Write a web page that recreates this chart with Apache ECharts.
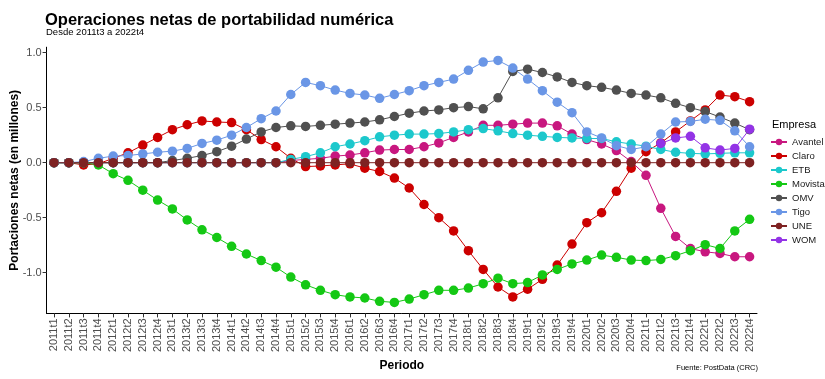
<!DOCTYPE html>
<html>
<head>
<meta charset="utf-8">
<script src="https://cdn.jsdelivr.net/npm/echarts@6/dist/echarts.min.js"></script>
<style>
  html, body { margin: 0; padding: 0; background: #fff; }
  #chart { width: 825px; height: 379px; }
</style>
</head>
<body>
<div id="chart"></div>
<script>
const periods = [
  '2011t1','2011t2','2011t3','2011t4','2012t1','2012t2','2012t3','2012t4',
  '2013t1','2013t2','2013t3','2013t4','2014t1','2014t2','2014t3','2014t4',
  '2015t1','2015t2','2015t3','2015t4','2016t1','2016t2','2016t3','2016t4',
  '2017t1','2017t2','2017t3','2017t4','2018t1','2018t2','2018t3','2018t4',
  '2019t1','2019t2','2019t3','2019t4','2020t1','2020t2','2020t3','2020t4',
  '2021t1','2021t2','2021t3','2021t4','2022t1','2022t2','2022t3','2022t4'
];

const avantel = [0,0,0,0,0,0,0,0, 0,0,0,0,0,0,0,0,
  0.02,0.03,0.04,0.06,0.07,0.09,0.115,0.12, 0.12,0.145,0.18,0.23,0.28,0.34,0.34,0.35,
  0.36,0.36,0.335,0.26,0.21,0.17,0.11,0.01, -0.115,-0.415,-0.67,-0.78,-0.81,-0.825,-0.855,-0.855];

const claro = [0,0,-0.02,-0.01,0.04,0.09,0.16,0.23, 0.30,0.345,0.38,0.37,0.365,0.30,0.21,0.145,
  0.04,-0.035,-0.03,-0.02,-0.01,-0.05,-0.08,-0.14, -0.23,-0.38,-0.50,-0.62,-0.80,-0.97,-1.13,-1.22,
  -1.15,-1.06,-0.93,-0.74,-0.545,-0.455,-0.26,-0.05, 0.10,0.18,0.28,0.38,0.48,0.615,0.60,0.555];

const etb = [0,0,0,0,0,0,0,0, 0,0,0,0,0,0,0,0,
  0.03,0.055,0.09,0.145,0.17,0.20,0.235,0.25, 0.26,0.26,0.265,0.28,0.30,0.31,0.29,0.265,
  0.25,0.24,0.23,0.225,0.22,0.22,0.19,0.17, 0.15,0.12,0.095,0.085,0.08,0.085,0.09,0.09];

const movistar = [0,0,0,-0.02,-0.10,-0.16,-0.25,-0.34, -0.42,-0.52,-0.61,-0.68,-0.76,-0.83,-0.89,-0.95,
  -1.04,-1.11,-1.16,-1.20,-1.22,-1.23,-1.26,-1.27, -1.24,-1.20,-1.16,-1.16,-1.14,-1.10,-1.05,-1.10,
  -1.09,-1.02,-0.97,-0.92,-0.885,-0.84,-0.86,-0.885, -0.89,-0.88,-0.845,-0.80,-0.745,-0.78,-0.62,-0.515];

const omv = [0,0,0,0,0,0,0,0, 0.02,0.04,0.065,0.10,0.15,0.215,0.28,0.32,
  0.335,0.33,0.34,0.35,0.36,0.37,0.39,0.42, 0.45,0.47,0.48,0.50,0.51,0.49,0.59,0.83,
  0.85,0.82,0.78,0.73,0.70,0.685,0.66,0.63, 0.615,0.59,0.54,0.50,0.465,0.415,0.36,0.30];

const tigo = [0,0,0.01,0.04,0.06,0.065,0.08,0.095, 0.105,0.13,0.175,0.205,0.25,0.32,0.40,0.47,
  0.62,0.73,0.70,0.66,0.63,0.615,0.585,0.62, 0.655,0.70,0.73,0.76,0.84,0.915,0.93,0.86,
  0.76,0.655,0.55,0.455,0.28,0.225,0.155,0.12, 0.145,0.26,0.37,0.375,0.395,0.385,0.29,0.145];

const une = [0,0,0,0,0,0,0,0, 0,0,0,0,0,0,0,0,
  0,0,0,0,0,0,0,0, 0,0,0,0,0,0,0,0,
  0,0,0,0,0,0,0,0, 0,0,0,0,0,0,0,0];

const wom = [null,null,null,null,null,null,null,null, null,null,null,null,null,null,null,null,
  null,null,null,null,null,null,null,null, null,null,null,null,null,null,null,null,
  null,null,null,null,null,null,null,null, null,0.175,0.225,0.24,0.135,0.115,0.13,0.305];

const yTicks = [-1, -0.5, 0, 0.5, 1];

const seriesDefs = [
  ['Avantel', avantel, '#C8177F'],
  ['Claro', claro, '#CC0000'],
  ['ETB', etb, '#1CC8CC'],
  ['Movistar', movistar, '#14C814'],
  ['OMV', omv, '#505050'],
  ['Tigo', tigo, '#6A96E6'],
  ['UNE', une, '#7E2222'],
  ['WOM', wom, '#9333E6']
];

const FONT = 'Liberation Sans, Arial, sans-serif';

const chart = echarts.init(document.getElementById('chart'), null, { renderer: 'canvas' });
chart.setOption({
  animation: false,
  backgroundColor: '#ffffff',
  textStyle: { fontFamily: FONT },
  title: [
    { text: 'Operaciones netas de portabilidad numérica', left: 45, top: 12, padding: 0,
      textStyle: { fontSize: 16.5, fontWeight: 'bold', color: '#000', fontFamily: FONT } },
    { text: 'Desde 2011t3 a 2022t4', left: 46, top: 27, padding: 0,
      textStyle: { fontSize: 9.5, fontWeight: 'normal', color: '#000', fontFamily: FONT } },
    { text: 'Empresa', left: 772, top: 119, padding: 0,
      textStyle: { fontSize: 11, fontWeight: 'normal', color: '#000', fontFamily: FONT } },
    { text: 'Fuente: PostData (CRC)', right: 67, top: 364, padding: 0,
      textStyle: { fontSize: 7.5, fontWeight: 'normal', color: '#000', fontFamily: FONT } }
  ],
  legend: {
    orient: 'vertical',
    left: 770,
    top: 137,
    padding: 0,
    itemWidth: 16,
    itemHeight: 8,
    itemGap: 4,
    textStyle: { fontSize: 9.5, color: '#1a1a1a', fontFamily: FONT, lineHeight: 10 },
    data: seriesDefs.map(d => d[0])
  },
  grid: { left: 46.6, top: 47.2, width: 710.4, height: 266.2, containLabel: false, outerBoundsMode: 'none' },
  xAxis: {
    type: 'category',
    data: periods,
    boundaryGap: true,
    name: 'Periodo',
    nameLocation: 'middle',
    nameGap: 46,
    nameMoveOverlap: false,
    nameTextStyle: { fontSize: 12, fontWeight: 'bold', color: '#000', fontFamily: FONT },
    axisLine: { show: true, onZero: false, lineStyle: { color: '#000', width: 1 } },
    axisTick: { show: true, alignWithLabel: true, length: 4, lineStyle: { color: '#333' } },
    axisLabel: { interval: 0, rotate: 90, fontSize: 11, color: '#4d4d4d', margin: 5, fontFamily: FONT },
    splitLine: { show: false }
  },
  yAxis: {
    type: 'value',
    min: -1.37,
    max: 1.05,
    name: 'Portaciones netas (en millones)',
    nameLocation: 'middle',
    nameGap: 26,
    nameMoveOverlap: false,
    nameTextStyle: { fontSize: 12, fontWeight: 'bold', color: '#000', fontFamily: FONT },
    axisLine: { show: true, lineStyle: { color: '#000', width: 1 } },
    axisTick: { show: true, length: 4, customValues: yTicks, lineStyle: { color: '#333' } },
    axisLabel: { customValues: yTicks, fontSize: 11, color: '#4d4d4d', margin: 5, fontFamily: FONT,
      formatter: v => v.toFixed(1) },
    splitLine: { show: false }
  },
  series: seriesDefs.map(([name, data, color]) => ({
    name: name,
    type: 'line',
    data: data,
    symbol: 'circle',
    symbolSize: 9.5,
    showAllSymbol: true,
    connectNulls: false,
    itemStyle: { color: color },
    lineStyle: { color: color, width: 1 },
    emphasis: { disabled: true }
  }))
});
</script>
</body>
</html>
